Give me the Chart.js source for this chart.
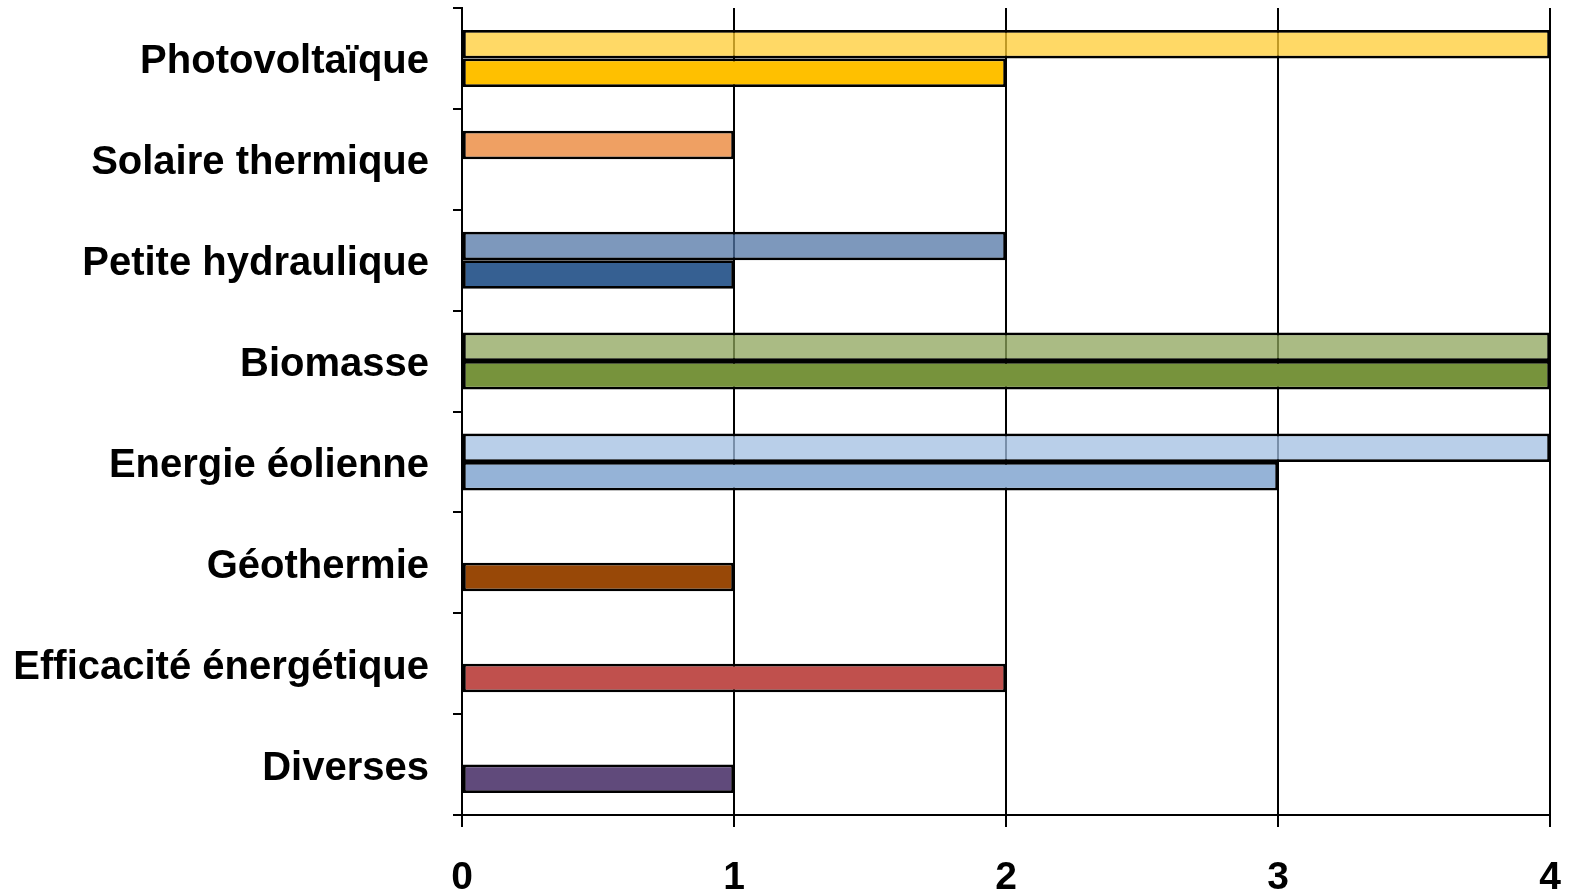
<!DOCTYPE html>
<html>
<head>
<meta charset="utf-8">
<script src="https://cdn.jsdelivr.net/npm/chart.js@4"></script>
<style>
html,body{margin:0;padding:0;background:#fff;}
canvas{display:block;}
</style>
</head>
<body>
<canvas id="c" width="1571" height="892"></canvas>
<script>
const categories = ["Photovoltaïque","Solaire thermique","Petite hydraulique","Biomasse","Energie éolienne","Géothermie","Efficacité énergétique","Diverses"];
const seriesTop = [4,1,2,4,4,0,0,0];
const seriesBottom = [2,0,1,4,3,1,2,1];
const xTicks = [0,1,2,3,4];
const colorsTop = ["rgba(255,204,51,0.75)","#EFA063","rgba(82,118,165,0.75)","rgba(141,164,91,0.75)","rgba(162,191,226,0.75)","#984807","#C0504D","#604A7B"];
const colorsBottom = ["#FFC000","#EFA063","#366092","#77933C","#95B3D7","#984807","#C0504D","#604A7B"];

const FONT = "'Liberation Sans', Arial, sans-serif";

new Chart(document.getElementById('c'), {
  type: 'bar',
  data: {
    labels: categories,
    datasets: [
      {data: seriesTop, backgroundColor: colorsTop, borderColor: '#000', borderWidth: 2.8, borderSkipped: false, categoryPercentage: 0.565, barPercentage: 1},
      {data: seriesBottom, backgroundColor: colorsBottom, borderColor: '#000', borderWidth: 2.8, borderSkipped: false, categoryPercentage: 0.565, barPercentage: 1}
    ]
  },
  options: {
    indexAxis: 'y',
    responsive: false,
    animation: false,
    devicePixelRatio: 1,
    layout: {padding: {top: 8, right: 21, bottom: 0, left: 0}},
    plugins: {legend: {display: false}, tooltip: {enabled: false}},
    scales: {
      x: {
        min: 0, max: 4,
        afterBuildTicks: (s) => { s.ticks = xTicks.map(v => ({value: v})); },
        afterFit: (s) => { s.height = 77; s.paddingLeft = 0; s.paddingRight = 0; s.paddingTop = 0; s.paddingBottom = 0; },
        grid: {color: '#000', lineWidth: 2, tickLength: 12, drawTicks: true},
        border: {display: true, color: '#000', width: 2},
        ticks: {color: '#000', font: {family: FONT, size: 39, weight: 'bold'}, padding: 28, maxRotation: 0}
      },
      y: {
        afterFit: (s) => { s.width = 462; s.paddingTop = 0; s.paddingBottom = 0; s.paddingLeft = 0; s.paddingRight = 0; },
        grid: {display: true, drawOnChartArea: false, color: '#000', lineWidth: 2, tickLength: 9, offset: true},
        border: {display: true, color: '#000', width: 2},
        ticks: {
          color: '#000',
          font: {family: FONT, size: 40, weight: 'bold', lineHeight: 0.2},
          padding: 24,
          callback: function(v, i) { return ['', categories[i]]; }
        }
      }
    }
  }
});
</script>
</body>
</html>
